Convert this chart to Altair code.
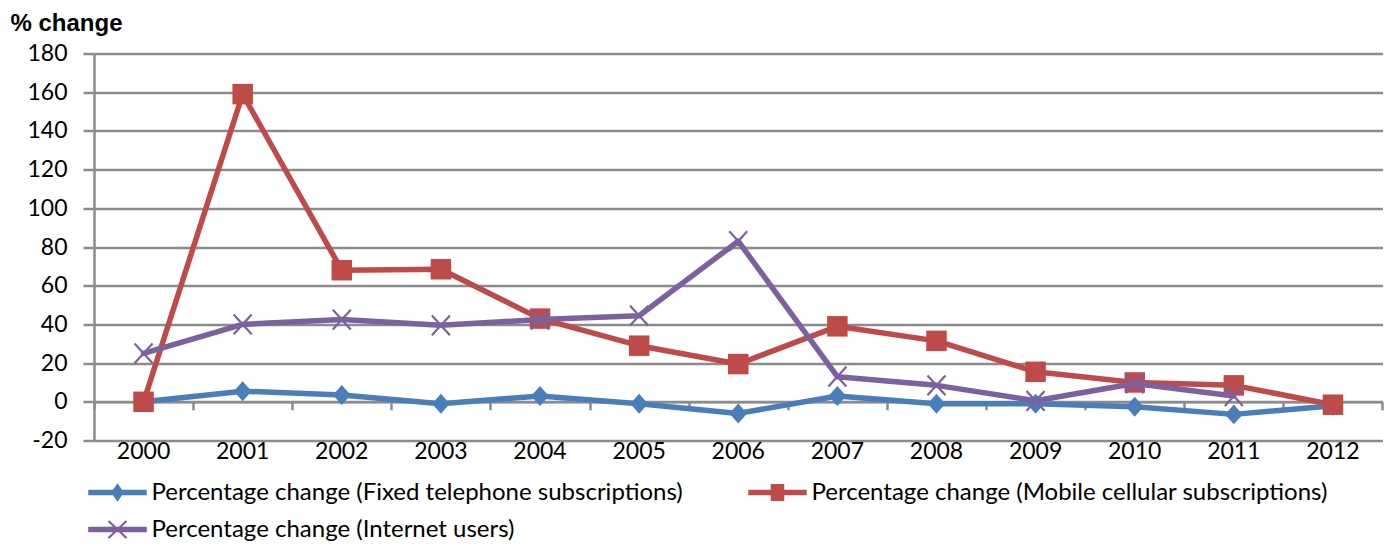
import altair as alt
import pandas as pd

years = ["2000", "2001", "2002", "2003", "2004", "2005", "2006",
         "2007", "2008", "2009", "2010", "2011", "2012"]
fixed = [0, 5.5, 3.5, -1, 3, -1, -6, 3, -1, -1, -2.5, -6.5, -2]
mobile = [0, 159, 68, 68.5, 43, 29, 19.5, 39, 31.5, 15.5, 10, 8.5, -1.5]
internet = [25, 40, 42.5, 39.5, 42.5, 44.5, 83, 13, 8.5, 0.5, 9.5, 3, None]

series_names = [
    "Percentage change (Fixed telephone subscriptions)",
    "Percentage change (Mobile cellular subscriptions)",
    "Percentage change (Internet users)",
]
colors = ["#4A7EBB", "#BE4B48", "#7D60A0"]
y_ticks = [-20, 0, 20, 40, 60, 80, 100, 120, 140, 160, 180]

rows = []
for name, vals in zip(series_names, [fixed, mobile, internet]):
    for yr, v in zip(years, vals):
        if v is not None:
            rows.append({"year": yr, "value": v, "series": name})
df = pd.DataFrame(rows)

FONT = "Lato"
GRID = "#8C8C8C"
PLOT_W, PLOT_H = 1288.5, 387


def poly(points):
    # ensure clockwise (screen) orientation so overlapping parts stay filled
    area = 0
    n = len(points)
    for i in range(n):
        x1, y1 = points[i]
        x2, y2 = points[(i + 1) % n]
        area += x1 * y2 - x2 * y1
    if area < 0:
        points = points[::-1]
    return "M" + "L".join(f"{x:.3f},{y:.3f}" for x, y in points) + "Z"


def seg(x1, y1, x2, y2, w):
    dx, dy = x2 - x1, y2 - y1
    ln = (dx * dx + dy * dy) ** 0.5
    nx, ny = -dy / ln * w, dx / ln * w
    return poly([(x1 + nx, y1 + ny), (x2 + nx, y2 + ny), (x2 - nx, y2 - ny), (x1 - nx, y1 - ny)])


bar = poly([(-1.95, -0.19), (1.95, -0.19), (1.95, 0.19), (-1.95, 0.19)])
legend_paths = [
    bar + poly([(0, -0.62), (0.43, 0), (0, 0.62), (-0.43, 0)]),
    bar + poly([(-0.45, -0.57), (0.45, -0.57), (0.45, 0.57), (-0.45, 0.57)]),
    bar + seg(-0.6, -0.57, 0.6, 0.57, 0.075) + seg(-0.6, 0.57, 0.6, -0.57, 0.075),
]

x_scale = alt.Scale(type="band", domain=years, paddingInner=0, paddingOuter=0)
y_scale = alt.Scale(domain=[-20, 180], nice=False, zero=False)

y_axis = alt.Axis(
    values=y_ticks, grid=True, gridColor=GRID, gridWidth=2.5,
    domain=True, domainColor=GRID, domainWidth=2.5,
    ticks=True, tickColor=GRID, tickWidth=2.5, tickSize=11,
    labelFont=FONT, labelFontSize=23, labelColor="black", labelPadding=16,
    labelExpr="datum.value + ''",
    title="% change", titleAngle=0, titleX=-84, titleY=-23.5,
    titleAlign="left", titleBaseline="alphabetic",
    titleFont="Liberation Sans", titleFontWeight="bold", titleFontSize=24,
    titleColor="black",
)
label_axis = alt.Axis(
    orient="bottom", domain=False, ticks=False, grid=False,
    labelFont=FONT, labelFontSize=23, labelColor="black", labelPadding=0,
    labelAngle=0, title=None,
)
zero_axis = alt.Axis(
    orient="bottom", offset=-38.7, domain=True, domainColor=GRID, domainWidth=2.5,
    ticks=True, tickBand="extent", tickColor=GRID, tickWidth=2.5, tickSize=8,
    labels=False, grid=False, title=None,
)

shapes = [
    dict(shape="M0,-1.13L1,0L0,1.13L-1,0Z", filled=True, size=313),
    dict(shape="square", filled=True, size=420),
    dict(shape="M-1,-1.1L1,1.1M-1,1.1L1,-1.1", filled=False, size=324, strokeWidth=2.2),
]

base = alt.Chart(df)
layers = []
for i, (name, col, shp) in enumerate(zip(series_names, colors, shapes)):
    sub = base.transform_filter(alt.datum.series == name)
    line = sub.mark_line(color=col, strokeWidth=5.5, strokeJoin="round", strokeCap="round").encode(
        x=alt.X("year:N", scale=x_scale, bandPosition=0.5,
                axis=label_axis if i == 0 else None),
        y=alt.Y("value:Q", scale=y_scale, axis=y_axis),
    )
    pts = sub.mark_point(color=col, opacity=1, **shp).encode(
        x=alt.X("year:N", scale=x_scale, bandPosition=0.5,
                axis=zero_axis if i == 0 else None),
        y=alt.Y("value:Q", scale=y_scale, axis=y_axis),
    )
    layers += [line, pts]

legend_layer = base.transform_filter("false").mark_point(filled=True, opacity=1).encode(
    color=alt.Color("series:N", scale=alt.Scale(domain=series_names, range=colors), title=None),
    shape=alt.Shape("series:N", scale=alt.Scale(domain=series_names, range=legend_paths), title=None),
)
layers.append(legend_layer)

chart = (
    alt.layer(*layers)
    .resolve_scale(x="shared", y="shared")
    .resolve_axis(x="independent")
    .properties(
        width=PLOT_W, height=PLOT_H,
        autosize=alt.AutoSizeParams(type="none"),
        padding={"left": 86, "top": 45.5, "right": 1.5, "bottom": 105.5},
    )
    .configure_view(stroke=None)
    .configure_legend(
        orient="none", legendX=8.5, legendY=424, direction="horizontal",
        columns=2, columnPadding=64, rowPadding=10, padding=0,
        labelFont=FONT, labelFontSize=24, labelColor="black", labelLimit=2000,
        labelOffset=19, symbolSize=900, symbolStrokeWidth=0, symbolOpacity=1,
    )
)

chart.save("out.html", embed_options={"renderer": "svg", "actions": False})
